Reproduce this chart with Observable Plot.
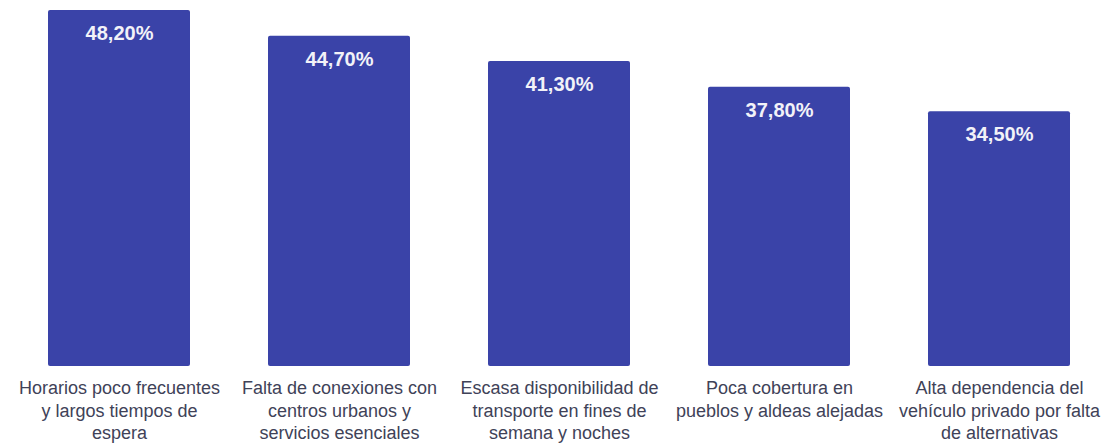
<!DOCTYPE html>
<html>
<head>
<meta charset="utf-8">
<script src="https://cdn.jsdelivr.net/npm/d3@7"></script>
<script src="https://cdn.jsdelivr.net/npm/@observablehq/plot@0.6"></script>
<style>
  html, body { margin: 0; padding: 0; background: #fff; }
  #chart svg { display: block; }
</style>
</head>
<body>
<div id="chart"></div>
<script>
const categories = [
  "Horarios poco frecuentes\ny largos tiempos de\nespera",
  "Falta de conexiones con\ncentros urbanos y\nservicios esenciales",
  "Escasa disponibilidad de\ntransporte en fines de\nsemana y noches",
  "Poca cobertura en\npueblos y aldeas alejadas",
  "Alta dependencia del\nvehículo privado por falta\nde alternativas"
];
const values = [48.2, 44.7, 41.3, 37.8, 34.5];
const valueLabels = ["48,20%", "44,70%", "41,30%", "37,80%", "34,50%"];

const data = categories.map((c, i) => ({cat: c, value: values[i], label: valueLabels[i]}));

const chart = Plot.plot({
  width: 1109,
  height: 443,
  marginTop: 10,
  marginBottom: 77,
  marginLeft: 47,
  marginRight: 38,
  style: {fontFamily: "'Liberation Sans', Arial, sans-serif", background: "#fff"},
  x: {domain: categories, paddingInner: 0.355, paddingOuter: 0, axis: null},
  y: {domain: [0, 48.2], axis: null},
  marks: [
    Plot.barY(data, {x: "cat", y: "value", fill: "#3a43a8", rx: 2}),
    Plot.text(data, {
      x: "cat", y: "value", text: "label",
      dy: 23, fill: "#f2f2f8", fontSize: 20, fontWeight: "bold", lineAnchor: "middle"
    }),
    Plot.text(data, {
      x: "cat", y: 0, text: "cat",
      dy: 12, lineAnchor: "top", lineHeight: 1.25,
      fill: "#404258", fontSize: 18
    })
  ]
});
document.getElementById("chart").appendChild(chart);
</script>
</body>
</html>
